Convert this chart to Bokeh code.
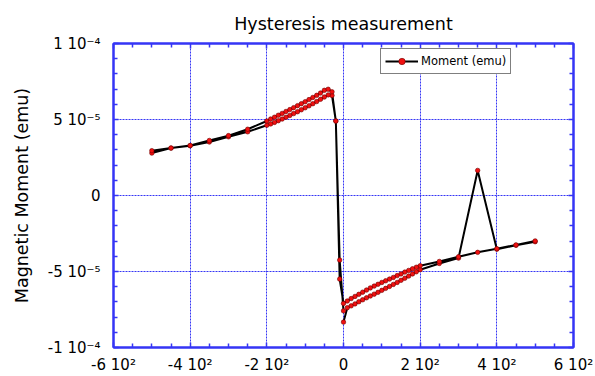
import numpy as np
from bokeh.plotting import figure
from bokeh.models import Range1d, FixedTicker, LinearAxis, Legend, LegendItem
from bokeh.embed import file_html
from bokeh.resources import INLINE

# ---- data (field in Oe, moment in units of 1e-5 emu) ----
field_virgin = [0, 10, 20, 30, 40, 50, 60, 70, 80, 90, 100, 110, 120, 130, 140,
                150, 160, 170, 180, 190, 200, 250, 300, 350, 400, 450, 500]
moment_virgin = [-8.33, -7.38, -7.26, -7.13, -6.99, -6.86, -6.73, -6.61, -6.49,
                 -6.37, -6.24, -6.11, -5.98, -5.85, -5.72, -5.58, -5.44, -5.30,
                 -5.16, -5.02, -4.88, -4.47, -4.12, 1.65, -3.53, -3.28, -3.04]

field_desc = [500, 450, 400, 350, 300, 250, 200, 190, 180, 170, 160, 150, 140,
              130, 120, 110, 100, 90, 80, 70, 60, 50, 40, 30, 20, 10, 0, -10,
              -20, -30, -40, -50, -60, -70, -80, -90, -100, -110, -120, -130,
              -140, -150, -160, -170, -180, -190, -200, -250, -300, -350, -400,
              -450, -500]
moment_desc = [-2.99, -3.25, -3.50, -3.74, -4.03, -4.34, -4.62, -4.72, -4.82,
               -4.93, -5.04, -5.16, -5.27, -5.39, -5.50, -5.61, -5.72, -5.84,
               -5.96, -6.08, -6.22, -6.36, -6.50, -6.64, -6.78, -6.94, -7.10,
               -5.50, 4.90, 6.58, 6.62, 6.48, 6.33, 6.18, 6.04, 5.90, 5.77,
               5.64, 5.51, 5.39, 5.27, 5.15, 5.03, 4.92, 4.81, 4.71, 4.62,
               4.19, 3.86, 3.52, 3.27, 3.12, 2.79]

field_asc = [-500, -450, -400, -350, -300, -250, -200, -190, -180, -170, -160,
             -150, -140, -130, -120, -110, -100, -90, -80, -70, -60, -50, -40,
             -30, -20, -10, 0]
moment_asc = [2.95, 3.12, 3.29, 3.62, 3.94, 4.36, 4.90, 5.03, 5.15, 5.28, 5.40,
              5.53, 5.65, 5.78, 5.91, 6.04, 6.17, 6.31, 6.45, 6.59, 6.74, 6.92,
              6.99, 6.82, 4.90, -4.25, -7.59]

x_ticks = [-600, -400, -200, 0, 200, 400, 600]
x_tick_labels = ["-6 10²", "-4 10²", "-2 10²", "0", "2 10²", "4 10²", "6 10²"]
x_minor_ticks = [-550, -500, -450, -350, -300, -250, -150, -100, -50, 50, 100,
                 150, 250, 300, 350, 450, 500, 550]
y_ticks = [-1e-4, -5e-5, 0, 5e-5, 1e-4]
y_tick_labels = ["-1 10⁻⁴", "-5 10⁻⁵", "0", "5 10⁻⁵", "1 10⁻⁴"]
y_minor_ticks = [-9e-5, -8e-5, -7e-5, -6e-5, -4e-5, -3e-5, -2e-5, -1e-5,
                 1e-5, 2e-5, 3e-5, 4e-5, 6e-5, 7e-5, 8e-5, 9e-5]

field = np.array(field_virgin + field_desc + field_asc, dtype=float)
moment = np.array(moment_virgin + moment_desc + moment_asc) * 1e-5

BLUE = "#3535f5"
FONT = "DejaVu Sans"

p = figure(width=595, height=376, x_range=Range1d(-600, 600),
           y_range=Range1d(-1e-4, 1e-4), output_backend="svg",
           toolbar_location=None, title="Hysteresis measurement",
           y_axis_label="Magnetic Moment (emu)",
           min_border_left=113, min_border_right=22, min_border_top=43,
           min_border_bottom=27)

p.title.align = "center"
p.title.text_font = FONT
p.title.text_font_size = "17.5px"
p.title.text_font_style = "normal"
p.title.text_color = "black"
p.title.standoff = 19

xt = FixedTicker(ticks=x_ticks, minor_ticks=x_minor_ticks)
yt = FixedTicker(ticks=y_ticks, minor_ticks=y_minor_ticks)

bottom = p.below[0]
left = p.left[0]
bottom.ticker = xt
left.ticker = yt
bottom.major_label_overrides = {t: l for t, l in zip(x_ticks, x_tick_labels)}
left.major_label_overrides = {t: l for t, l in zip(y_ticks, y_tick_labels)}

top = LinearAxis(ticker=xt)
right = LinearAxis(ticker=yt)
p.add_layout(top, "above")
p.add_layout(right, "right")

for ax in [bottom, left, top, right]:
    ax.axis_line_color = BLUE
    ax.axis_line_width = 2
    ax.major_tick_in = 5
    ax.major_tick_out = 0
    ax.minor_tick_in = 4
    ax.minor_tick_out = 0
    ax.major_tick_line_color = BLUE
    ax.minor_tick_line_color = BLUE
    ax.major_tick_line_width = 1.5
    ax.minor_tick_line_width = 1.5
    ax.major_label_text_font = FONT
    ax.major_label_text_font_size = "15px"
    ax.major_label_text_color = "black"

for ax in [top, right]:
    ax.major_label_text_color = None
    ax.major_label_text_font_size = "1px"
    ax.major_label_standoff = 0

bottom.major_label_standoff = 8
left.major_label_standoff = 13
left.axis_label_text_font = FONT
left.axis_label_text_font_size = "17.5px"
left.axis_label_text_font_style = "normal"
left.axis_label_text_color = "black"
left.axis_label_standoff = 13

p.outline_line_color = BLUE
p.outline_line_width = 2

for g in [p.xgrid[0], p.ygrid[0]]:
    g.grid_line_color = BLUE
    g.grid_line_dash = "2 1"
    g.grid_line_width = 1

line_r = p.line(field, moment, line_color="black", line_width=2)
dot_r = p.scatter(field, moment, marker="circle", size=4.5,
                  fill_color="#f01010", line_color="#700000", line_width=0.6)

legend = Legend(items=[LegendItem(label="Moment (emu)", renderers=[line_r, dot_r])],
                location=(267, 273), margin=0, padding=4, spacing=0,
                glyph_width=33, glyph_height=16, label_height=16,
                label_standoff=3, label_text_font=FONT,
                label_text_font_size="11.5px", label_text_color="black",
                border_line_color="black", border_line_width=1,
                background_fill_color="white", background_fill_alpha=1)
p.add_layout(legend, "center")

open("out.html", "w").write(file_html(p, INLINE))
